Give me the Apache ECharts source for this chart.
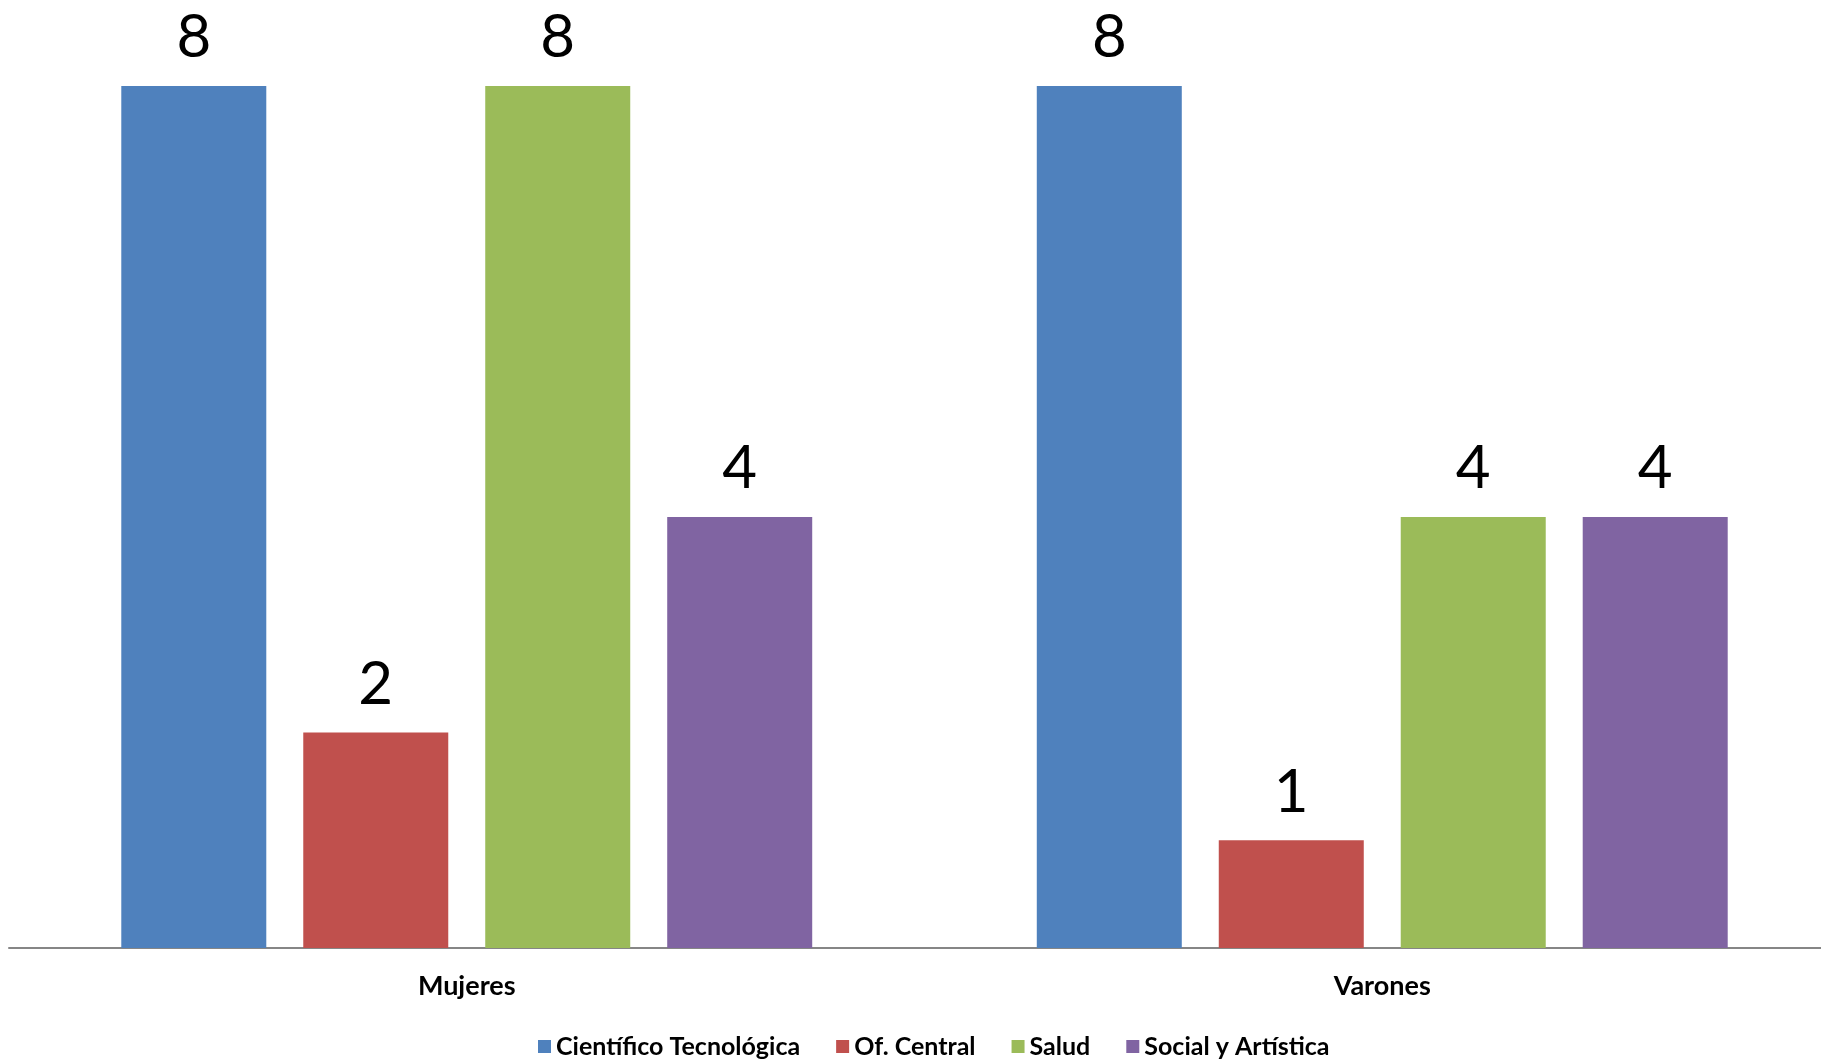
<!DOCTYPE html>
<html><head><meta charset="utf-8">
<script src="https://cdn.jsdelivr.net/npm/echarts@6/dist/echarts.min.js"></script>
<style>html,body{margin:0;padding:0;background:#fff;overflow:hidden}#c{width:1840px;height:1059px}</style>
</head><body><div id="c"></div>
<script>
const categories = ["Mujeres", "Varones"];
const seriesNames = ["Científico Tecnológica", "Of. Central", "Salud", "Social y Artística"];
const cientifico = [8, 8];
const central = [2, 1];
const salud = [8, 4];
const social = [4, 4];
const colors = ["#4F81BD", "#C0504D", "#9BBB59", "#8064A2"];
const values = [cientifico, central, salud, social];
const font = "Lato, 'Open Sans', sans-serif";
const chart = echarts.init(document.getElementById('c'));
chart.setOption({
  animation: false,
  color: colors,
  grid: { left: 9, top: 86, width: 1831, height: 862, containLabel: false },
  legend: {
    data: seriesNames, top: 1029, left: 533,
    itemWidth: 13, itemHeight: 13, itemGap: 36, icon: 'rect',
    textStyle: { fontFamily: font, fontWeight: 'bold', fontSize: 25, color: '#000' }
  },
  xAxis: {
    type: 'category', data: categories,
    axisLine: { lineStyle: { color: '#868686', width: 2 } },
    axisTick: { show: false },
    axisLabel: { fontFamily: font, fontWeight: 'bold', fontSize: 27, color: '#000', margin: 25 }
  },
  yAxis: { type: 'value', min: 0, max: 8, show: false, splitLine: { show: false } },
  series: seriesNames.map((n, i) => ({
    name: n, type: 'bar', data: values[i], barWidth: 145, barGap: '25.5%',
    label: { show: true, position: 'top', distance: 18, fontFamily: font, fontSize: 60, color: '#000' }
  }))
});
</script></body></html>
